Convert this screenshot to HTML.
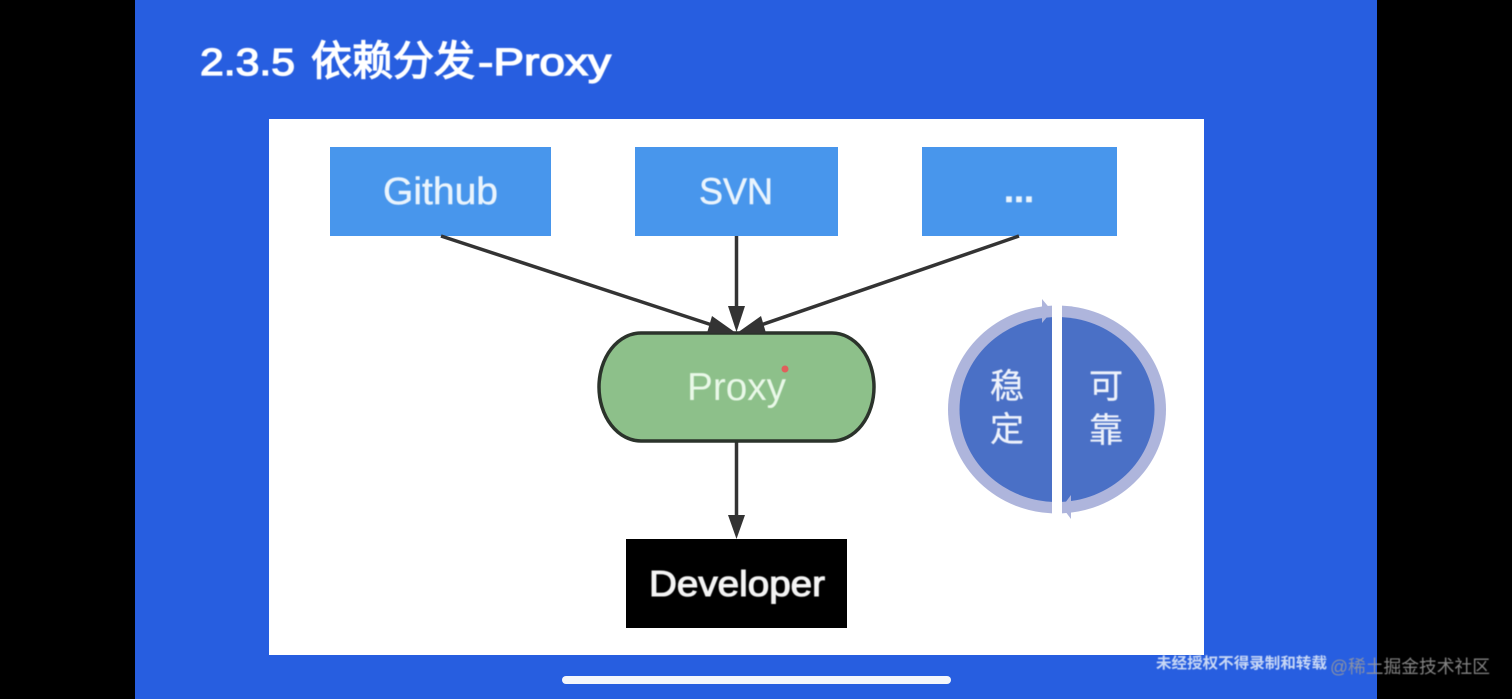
<!DOCTYPE html>
<html><head><meta charset="utf-8"><style>
html,body{margin:0;padding:0;background:#000;width:1512px;height:699px;overflow:hidden}
svg{display:block}
text{font-family:"Liberation Sans","Noto Sans CJK SC",sans-serif}
.t{filter:blur(0.45px)}
</style></head><body>
<svg width="1512" height="699" viewBox="0 0 1512 699" xmlns="http://www.w3.org/2000/svg">
<defs>
<clipPath id="l"><rect x="900" y="280" width="152" height="260"/></clipPath>
<clipPath id="r"><rect x="1062" y="280" width="152" height="260"/></clipPath>
</defs>
<rect width="1512" height="699" fill="#000"/>
<rect x="135" width="1242" height="699" fill="#275ee0"/>
<g class="t" fill="#fff" font-size="38" stroke="#fff" stroke-width="1.300">
<text x="200" y="75" textLength="95" lengthAdjust="spacingAndGlyphs">2.3.5</text>
<text x="311" y="75" font-size="41" textLength="164" lengthAdjust="spacingAndGlyphs">依赖分发</text>
<text x="478" y="75" textLength="133" lengthAdjust="spacingAndGlyphs">-Proxy</text>
</g>
<rect x="269" y="119" width="935" height="536" fill="#fff"/>
<rect x="330" y="147" width="221" height="89" fill="#4896ec"/>
<rect x="635" y="147" width="203" height="89" fill="#4896ec"/>
<rect x="922" y="147" width="195" height="89" fill="#4896ec"/>
<g class="t" fill="#eaf4fd" stroke="#eaf4fd" stroke-width="0.500">
<text x="383" y="204" font-size="38" textLength="115" lengthAdjust="spacingAndGlyphs">Github</text>
<text x="699" y="204" font-size="37" textLength="74" lengthAdjust="spacingAndGlyphs">SVN</text>
<text x="1019" y="202" font-size="36" font-weight="bold" text-anchor="middle">...</text>
</g>
<g stroke="#333" stroke-width="3.500" fill="none">
<line x1="441" y1="236" x2="712" y2="325"/>
<line x1="736.500" y1="236" x2="736.500" y2="310"/>
<line x1="1019" y1="236" x2="761" y2="325"/>
<line x1="736.500" y1="442" x2="736.500" y2="518"/>
</g>
<rect x="599" y="333" width="275" height="108" rx="42" ry="54" fill="#8dc08a" stroke="#2b332b" stroke-width="3.500"/>
<g fill="#333">
<polygon points="736,333 707,333 712,316"/>
<polygon points="737,333 766,333 761,316"/>
<polygon points="736.500,332 728,306 745,306"/>
<polygon points="736.500,539 728,515 745,515"/>
</g>
<text class="t" x="687" y="400" font-size="39" fill="#e9f8e8" textLength="99" lengthAdjust="spacingAndGlyphs">Proxy</text>
<circle cx="785" cy="369" r="3.500" fill="#e0605c"/>
<rect x="626" y="539" width="221" height="89" fill="#000"/>
<text class="t" x="649" y="596" font-size="36" fill="#f4f4f4" stroke="#f4f4f4" stroke-width="1.100" textLength="176" lengthAdjust="spacingAndGlyphs">Developer</text>
<g clip-path="url(#l)">
<ellipse cx="1057" cy="409.500" rx="109" ry="104" fill="#aeb5dc"/>
<ellipse cx="1057" cy="409.500" rx="97.500" ry="92.500" fill="#4a70c6"/>
</g>
<g clip-path="url(#r)">
<ellipse cx="1057" cy="409.500" rx="109" ry="104" fill="#aeb5dc"/>
<ellipse cx="1057" cy="409.500" rx="97.500" ry="92.500" fill="#4a70c6"/>
</g>
<polygon points="1052,311 1042,299 1042,323" fill="#aeb5dc"/>
<polygon points="1062,507 1071,495 1071,519" fill="#aeb5dc"/>
<g class="t" font-size="34" fill="#eef2fb" stroke="#eef2fb" stroke-width="0.300" text-anchor="middle">
<text x="1007" y="398">稳</text>
<text x="1007" y="441">定</text>
<text x="1106" y="398">可</text>
<text x="1106" y="442">靠</text>
</g>
<text class="t" x="1156" y="668" font-size="15" font-weight="bold" fill="#c9d8f5" textLength="171" lengthAdjust="spacingAndGlyphs">未经授权不得录制和转载</text>
<text class="t" x="1330" y="673" font-size="18" fill="#9a9a9a" fill-opacity="0.85" textLength="160" lengthAdjust="spacingAndGlyphs">@稀土掘金技术社区</text>
<rect x="562" y="676" width="389" height="8" rx="4" fill="#f4f6fb"/>
</svg>
</body></html>
